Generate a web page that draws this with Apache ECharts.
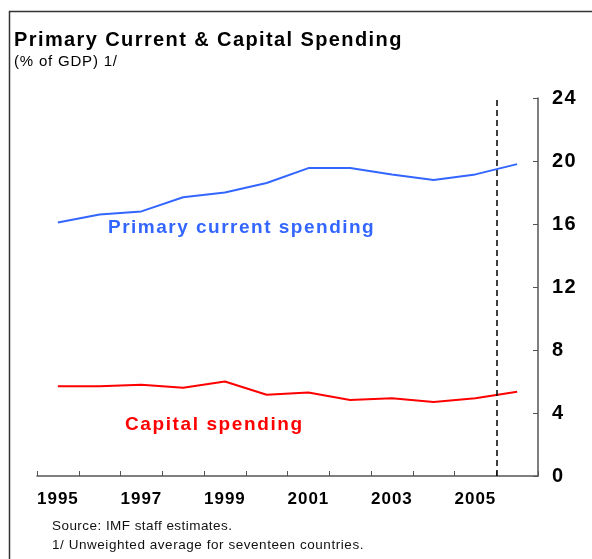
<!DOCTYPE html>
<html>
<head>
<meta charset="utf-8">
<script src="https://cdn.jsdelivr.net/npm/echarts@6/dist/echarts.min.js"></script>
<style>
  html, body { margin: 0; padding: 0; background: #fff; }
  #chart { width: 592px; height: 559px; }
</style>
</head>
<body>
<div id="chart"></div>
<script>
// Years on the horizontal axis
const years = ['1995', '1996', '1997', '1998', '1999', '2000', '2001', '2002', '2003', '2004', '2005', '2006'];
// Primary current spending, % of GDP
const currentSpending = [16.1, 16.6, 16.8, 17.7, 18.0, 18.6, 19.55, 19.55, 19.15, 18.8, 19.15, 19.8];
// Capital spending, % of GDP
const capitalSpending = [5.7, 5.7, 5.8, 5.6, 6.0, 5.16, 5.3, 4.83, 4.93, 4.7, 4.93, 5.35];
// Projection boundary (between 2005 and 2006)
const projectionStart = 11;

const FONT = '"Liberation Sans", Arial, sans-serif';
const TITLE = 'Primary Current & Capital Spending';
const SUBTITLE = '(% of GDP) 1/';
const SOURCE = 'Source: IMF staff estimates.';
const NOTE = '1/ Unweighted average for seventeen countries.';
const LABEL_CURRENT = 'Primary current spending';
const LABEL_CAPITAL = 'Capital spending';

// Tracking (letter spacing, px) for the wide-set typography
const tracking = {};
tracking[TITLE] = 1.4;
tracking[SUBTITLE] = 0.8;
tracking[LABEL_CURRENT] = 1.5;
tracking[LABEL_CAPITAL] = 1.6;
tracking[SOURCE] = 0.45;
tracking[NOTE] = 0.55;
years.forEach(function (y) { tracking[y] = 1; });

// Apply tracking when canvas text is painted
(function () {
  const proto = CanvasRenderingContext2D.prototype;
  ['fillText', 'strokeText'].forEach(function (fn) {
    const orig = proto[fn];
    proto[fn] = function (text) {
      const sp = tracking[text];
      if (sp && 'letterSpacing' in this) {
        const prev = this.letterSpacing;
        this.letterSpacing = sp + 'px';
        const r = orig.apply(this, arguments);
        this.letterSpacing = prev;
        return r;
      }
      return orig.apply(this, arguments);
    };
  });
})();

const chart = echarts.init(document.getElementById('chart'), null, { renderer: 'canvas' });

chart.setOption({
  animation: false,
  backgroundColor: '#fff',
  title: {
    text: TITLE,
    subtext: SUBTITLE,
    left: 9,
    top: 25,
    itemGap: 4,
    textStyle: { fontFamily: FONT, fontSize: 20, fontWeight: 'bold', color: '#000' },
    subtextStyle: { fontFamily: FONT, fontSize: 15, color: '#000' }
  },
  grid: { left: 37, right: 54, top: 98, bottom: 83 },
  xAxis: [
    {
      type: 'category',
      data: years,
      boundaryGap: true,
      axisLine: { lineStyle: { color: '#555', width: 1.5 } },
      axisTick: { show: true, inside: true, length: 5, interval: 0, lineStyle: { color: '#555', width: 1 } },
      axisLabel: {
        interval: 1, margin: 15, color: '#000',
        fontFamily: FONT, fontSize: 17, fontWeight: 'bold'
      },
      splitLine: { show: false }
    },
    {
      type: 'value',
      min: 0, max: 12,
      show: false
    }
  ],
  yAxis: {
    type: 'value',
    position: 'right',
    min: 0, max: 24, interval: 4,
    axisLine: { show: true, onZero: false, lineStyle: { color: '#555', width: 1.5 } },
    axisTick: { show: true, inside: true, length: 5, lineStyle: { color: '#555', width: 1 } },
    axisLabel: { margin: 14, color: '#000', fontFamily: FONT, fontSize: 20, fontWeight: 'bold' },
    splitLine: { show: false }
  },
  series: [
    {
      name: LABEL_CURRENT,
      type: 'line',
      data: currentSpending,
      symbol: 'none',
      lineStyle: { color: '#3366ff', width: 2 },
      z: 3
    },
    {
      name: LABEL_CAPITAL,
      type: 'line',
      data: capitalSpending,
      symbol: 'none',
      lineStyle: { color: '#ff0000', width: 2 },
      z: 3
    },
    {
      name: 'projection',
      type: 'line',
      xAxisIndex: 1,
      data: [],
      markLine: {
        silent: true,
        symbol: 'none',
        label: { show: false },
        lineStyle: { color: '#000', type: [6, 4], width: 1.5 },
        data: [{ xAxis: projectionStart }]
      }
    }
  ],
  graphic: [
    {
      type: 'polyline',
      shape: { points: [[9.5, 600], [9.5, 11.5], [600, 11.5]] },
      style: { stroke: '#333', lineWidth: 1.5, fill: null }
    },
    {
      type: 'text', left: 108, top: 218,
      style: { text: LABEL_CURRENT, fill: '#3366ff', font: 'bold 19px ' + FONT }
    },
    {
      type: 'text', left: 125, top: 415,
      style: { text: LABEL_CAPITAL, fill: '#ff0000', font: 'bold 19px ' + FONT }
    },
    {
      type: 'text', left: 52, top: 519,
      style: { text: SOURCE, fill: '#111', font: '13.5px ' + FONT }
    },
    {
      type: 'text', left: 52, top: 538,
      style: { text: NOTE, fill: '#111', font: '13.5px ' + FONT }
    }
  ]
});
</script>
</body>
</html>
